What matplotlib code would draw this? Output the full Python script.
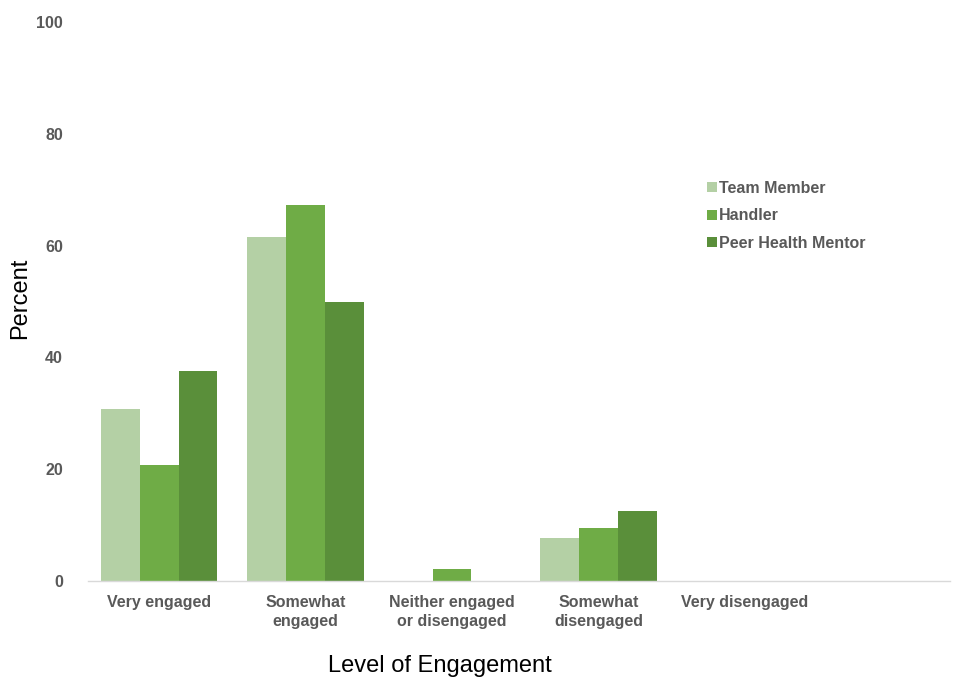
import numpy as np
import matplotlib
matplotlib.use('Agg')
import matplotlib.pyplot as plt

# Data
categories = ['Very engaged', 'Somewhat\nengaged', 'Neither engaged\nor disengaged',
              'Somewhat\ndisengaged', 'Very disengaged']
team_member = [30.8, 61.5, 0.0, 7.7, 0.0]
handler = [20.8, 67.3, 2.1, 9.4, 0.0]
peer_mentor = [37.5, 50.0, 0.0, 12.5, 0.0]
series_names = ['Team Member', 'Handler', 'Peer Health Mentor']
colors = ['#b4d0a5', '#6fac46', '#5a8f3a']

plt.rcParams['font.family'] = ['Liberation Sans', 'DejaVu Sans']

fig = plt.figure(figsize=(9.54, 6.77), dpi=100)
ax = fig.add_axes([88/954, 96/677, 862/954, 559/677])

x = np.arange(len(categories))
w = 0.266
for i, (vals, name, c) in enumerate(zip([team_member, handler, peer_mentor], series_names, colors)):
    ax.bar(x + (i - 1) * w, vals, width=w, color=c, label=name, zorder=2)

ax.set_xlim(-0.485, 5.4)
ax.set_ylim(0, 100)
ax.set_yticks([0, 20, 40, 60, 80, 100])
ax.set_xticks(x)
ax.set_xticklabels(categories)

tick_color = '#595959'
for lab in ax.get_xticklabels() + ax.get_yticklabels():
    lab.set_fontweight('bold')
    lab.set_fontsize(11.5)
    lab.set_color(tick_color)
for lab in ax.get_xticklabels():
    lab.set_linespacing(1.35)
ax.tick_params(axis='both', length=0)
ax.tick_params(axis='y', pad=18)
ax.tick_params(axis='x', pad=10)

for s in ['top', 'right', 'left']:
    ax.spines[s].set_visible(False)
ax.spines['bottom'].set_color('#d9d9d9')
ax.spines['bottom'].set_linewidth(1.0)

fig.text(20/954, 1 - 298/677, 'Percent', rotation=90, fontsize=17,
         ha='center', va='center', color='black')
fig.text(440/954, 1 - 666/677, 'Level of Engagement', fontsize=17,
         ha='center', va='center', color='black')

leg = ax.legend(loc='center left', bbox_to_anchor=(707/954, 1 - 216/677),
                bbox_transform=fig.transFigure, frameon=False,
                handlelength=0.6, handleheight=0.6, handletextpad=0.15,
                labelspacing=0.78, borderpad=0, borderaxespad=0,
                prop={'weight': 'bold', 'size': 11.5})
for t in leg.get_texts():
    t.set_color(tick_color)

fig.savefig('out.png', dpi=100)
